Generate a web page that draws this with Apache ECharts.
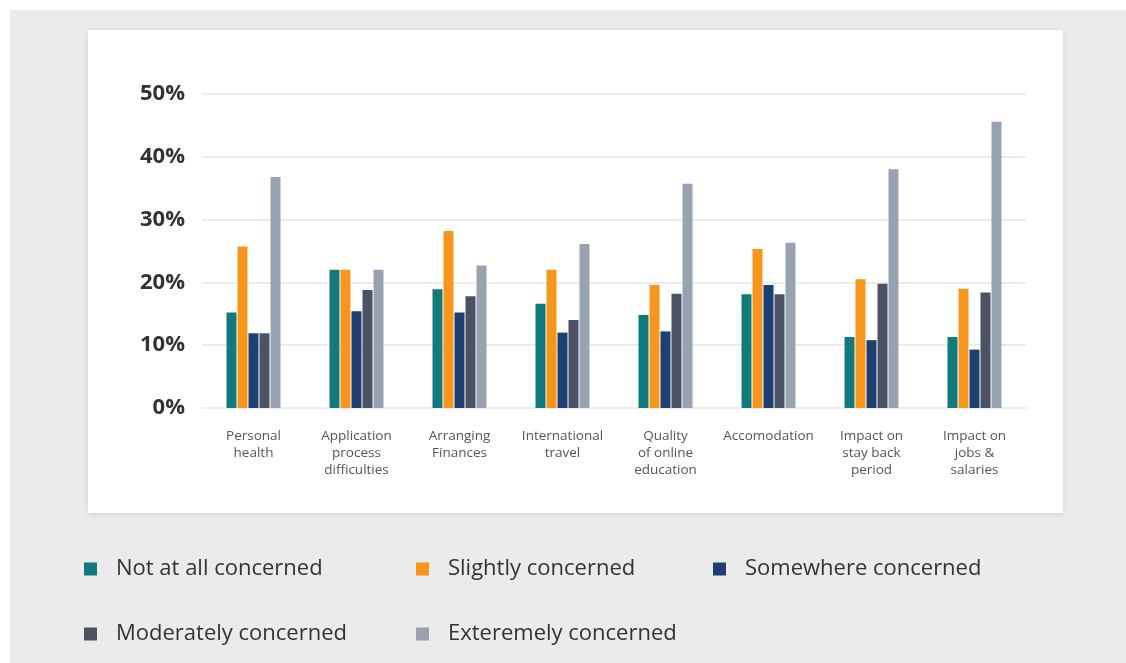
<!DOCTYPE html>
<html>
<head>
<meta charset="utf-8">
<script src="https://cdn.jsdelivr.net/npm/echarts@6/dist/echarts.min.js"></script>
<style>
  html, body { margin: 0; padding: 0; background: #fff; }
  #chart { width: 1126px; height: 663px; }
</style>
</head>
<body>
<div id="chart"></div>
<script>
const categories = [
  "Personal\nhealth",
  "Application\nprocess\ndifficulties",
  "Arranging\nFinances",
  "International\ntravel",
  "Quality\nof online\neducation",
  "Accomodation",
  "Impact on\nstay back\nperiod",
  "Impact on\njobs &\nsalaries",
];
const seriesNames = [
  "Not at all concerned",
  "Slightly concerned",
  "Somewhere concerned",
  "Moderately concerned",
  "Exteremely concerned",
];
const notAtAll = [15.2, 22, 18.9, 16.6, 14.8, 18.1, 11.3, 11.3];
const slightly = [25.7, 22, 28.2, 22, 19.6, 25.3, 20.5, 19];
const somewhere = [11.9, 15.4, 15.2, 12, 12.2, 19.6, 10.8, 9.3];
const moderately = [11.9, 18.8, 17.8, 14, 18.2, 18.1, 19.8, 18.4];
const extremely = [36.8, 22, 22.7, 26.1, 35.7, 26.3, 38, 45.6];
const yTicks = [0, 10, 20, 30, 40, 50];

const colors = ["#127a7d", "#f7961c", "#1d3f72", "#4a5263", "#99a2b0"];
const values = [notAtAll, slightly, somewhere, moderately, extremely];

const chart = echarts.init(document.getElementById("chart"));

// legend positions (two rows under the card)
const legendPos = [
  { left: 79, top: 553 },
  { left: 411, top: 553 },
  { left: 708, top: 553 },
  { left: 79, top: 618 },
  { left: 411, top: 618 },
];

const option = {
  animation: false,
  backgroundColor: "#fff",
  graphic: [
    { type: "rect", shape: { x: 10, y: 10, width: 1116, height: 653 }, style: { fill: "#ebebeb" }, z: -10 },
    {
      type: "rect",
      shape: { x: 88, y: 30, width: 975, height: 483 },
      style: { fill: "#fff", shadowBlur: 6, shadowColor: "rgba(0,0,0,0.12)", shadowOffsetY: 1 },
      z: -9,
    },
  ],
  grid: { left: 202, right: 100, top: 94, height: 314 },
  legend: legendPos.map((p, i) => ({
    left: p.left,
    top: p.top,
    data: [seriesNames[i]],
    icon: "rect",
    itemWidth: 13,
    itemHeight: 13,
    itemGap: 0,
    textStyle: { fontFamily: "Open Sans", fontSize: 22, color: "#333", padding: [0, 0, 0, 14] },
  })),
  xAxis: {
    type: "category",
    data: categories,
    axisLine: { show: false },
    axisTick: { show: false },
    axisLabel: {
      interval: 0,
      margin: 20,
      fontFamily: "Open Sans",
      fontSize: 13.5,
      lineHeight: 17,
      color: "#555",
    },
  },
  yAxis: {
    type: "value",
    min: 0,
    max: 50,
    interval: 10,
    axisLine: { show: false },
    axisTick: { show: false },
    splitLine: { lineStyle: { color: "#e6e6e6", width: 1.5 } },
    axisLabel: {
      formatter: (v) => (yTicks.includes(v) ? v + "%" : ""),
      margin: 17,
      fontFamily: "Open Sans",
      fontWeight: "bold",
      fontSize: 22,
      color: "#333",
    },
  },
  series: seriesNames.map((name, i) => ({
    name,
    type: "bar",
    data: values[i],
    barWidth: 10,
    barGap: "10%",
    itemStyle: { color: colors[i] },
  })),
};

chart.setOption(option);
</script>
</body>
</html>
